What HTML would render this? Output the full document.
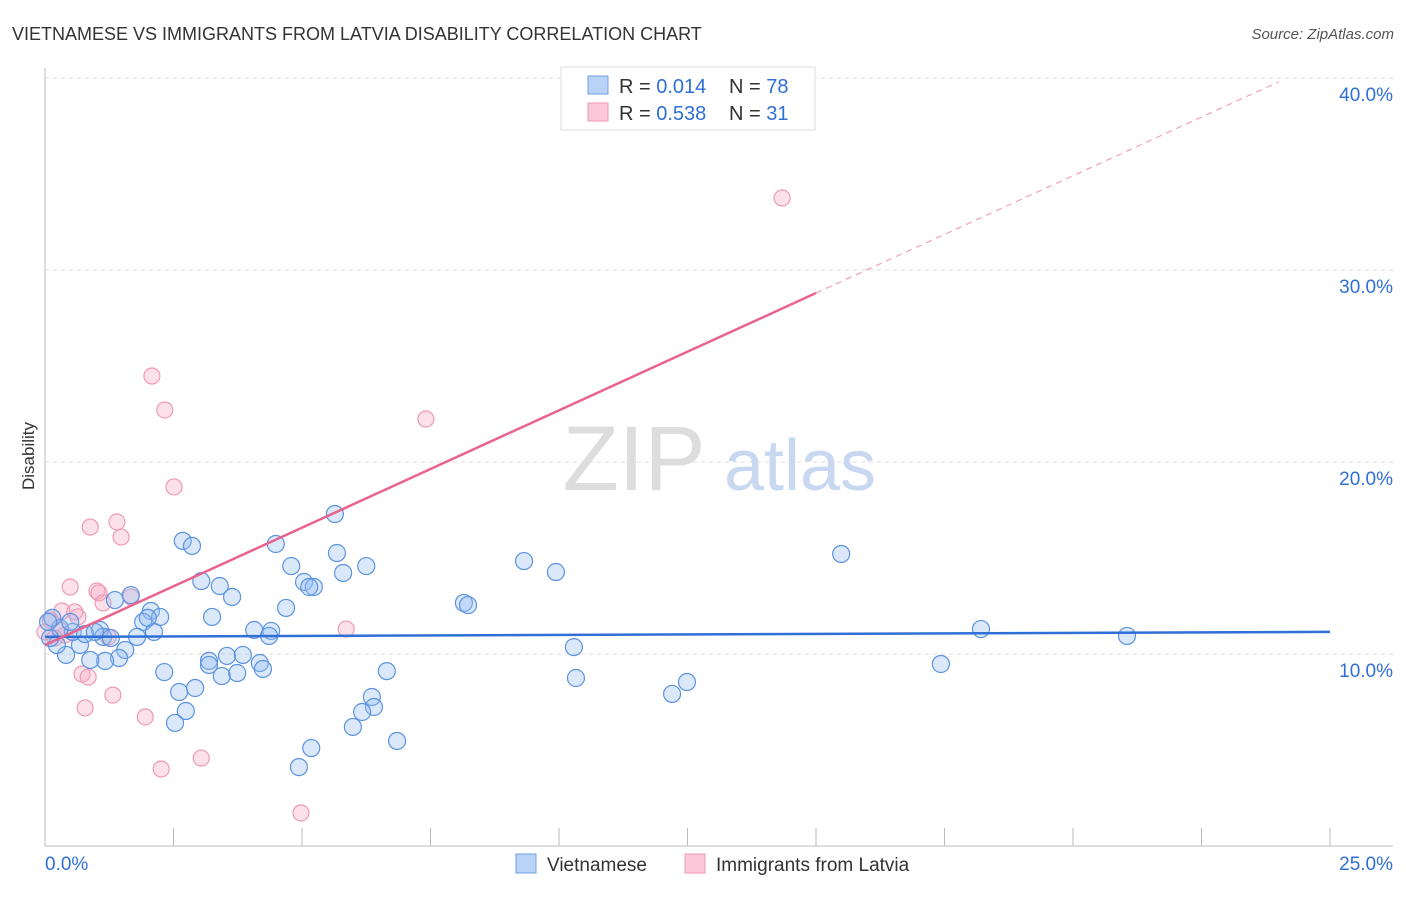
<!DOCTYPE html>
<html><head><meta charset="utf-8"><style>
body{margin:0;background:#fff;font-family:"Liberation Sans",sans-serif}
svg text{font-family:"Liberation Sans",sans-serif}
</style></head><body>
<svg id="chart" width="1406" height="892">
<text x="12" y="40" font-size="18" fill="#333">VIETNAMESE VS IMMIGRANTS FROM LATVIA DISABILITY CORRELATION CHART</text>
<text x="1394" y="39" font-size="15" fill="#555" font-style="italic" text-anchor="end">Source: ZipAtlas.com</text>
<text x="34" y="456" font-size="17" fill="#333" transform="rotate(-90 34 456)" text-anchor="middle">Disability</text>
<g id="grid"></g>
<text x="634" y="490" font-size="92" fill="#ddd" font-family="Liberation Serif" text-anchor="middle">ZIP</text>
<text x="800" y="490" font-size="72" fill="#c8d8f0" text-anchor="middle">atlas</text>
<g id="marks"></g>
<g>
<rect x="561" y="67" width="254" height="63" fill="#fff" stroke="#ddd"/>
<rect x="588" y="76" width="20" height="18" fill="#b9d3f7" stroke="#6f9fe0"/>
<rect x="588" y="103" width="20" height="18" fill="#fac8d8" stroke="#ee9ab5"/>
<text x="619" y="93" font-size="20" fill="#333">R = <tspan fill="#2f6fd6">0.014</tspan></text>
<text x="729" y="93" font-size="20" fill="#333">N = <tspan fill="#2f6fd6">78</tspan></text>
<text x="619" y="120" font-size="20" fill="#333">R = <tspan fill="#2f6fd6">0.538</tspan></text>
<text x="729" y="120" font-size="20" fill="#333">N = <tspan fill="#2f6fd6"> 31</tspan></text>
</g>
<g>
<rect x="516" y="854" width="20" height="19" fill="#b9d3f7" stroke="#6f9fe0"/>
<text x="547" y="871" font-size="19" fill="#333">Vietnamese</text>
<rect x="685" y="854" width="20" height="19" fill="#fac8d8" stroke="#ee9ab5"/>
<text x="716" y="871" font-size="19" fill="#333">Immigrants from Latvia</text>
</g>
</svg>
<script>
const yTicks=[10,20,30,40];
const yTickLabels=["10.0%","20.0%","30.0%","40.0%"];
const xTickVals=[0,2.5,5,7.5,10,12.5,15,17.5,20,22.5,25];
const blueX=[2.68,2.86,4.49,5.64,5.68,6.25,5.80,4.79,5.04,5.23,5.14,3.04,3.40,3.64,3.25,4.69,4.07,4.40,4.36,1.36,1.67,2.06,2.24,1.91,2.12,1.79,1.56,1.44,1.17,0.88,0.41,0.23,0.68,1.07,1.13,1.28,0.54,0.29,0.14,0.10,2.32,2.61,2.92,2.74,2.53,3.19,3.19,3.44,3.74,3.54,3.85,4.18,4.24,6.65,6.36,6.40,6.17,5.99,5.18,4.94,6.85,8.15,8.23,9.32,9.94,10.29,10.33,12.20,12.49,15.49,17.43,18.21,21.05,0.49,0.78,0.97,2.00,0.06];
const blueY=[15.89,15.63,15.73,17.29,15.26,14.58,14.22,14.58,13.75,13.49,13.49,13.80,13.54,12.97,11.93,12.40,11.25,11.20,10.94,12.81,13.07,12.24,11.93,11.67,11.15,10.89,10.21,9.79,9.64,9.69,9.95,10.47,10.47,11.25,10.89,10.83,11.15,11.35,11.88,10.83,9.06,8.02,8.23,7.03,6.41,9.64,9.43,8.85,9.01,9.90,9.95,9.53,9.22,9.11,7.76,7.24,6.98,6.20,5.10,4.11,5.47,12.66,12.55,14.84,14.27,10.36,8.75,7.92,8.54,15.21,9.48,11.30,10.94,11.67,11.04,11.15,11.88,11.67];
const pinkX=[14.34,2.08,2.33,7.41,2.51,0.88,1.40,1.48,0.49,1.01,1.05,1.13,1.67,0.33,0.58,0.64,0.29,0.19,0.39,0.72,0.84,1.32,0.78,1.95,2.26,3.04,4.98,5.86,0.10,0.0,1.23];
const pinkY=[33.75,24.48,22.71,22.24,18.70,16.61,16.88,16.09,13.49,13.28,13.18,12.66,12.97,12.24,12.19,11.93,11.25,10.83,10.99,8.96,8.80,7.86,7.19,6.72,4.01,4.58,1.72,11.30,11.77,11.15,10.89];
const blueLine=[10.89,11.15]; // y at x=0 and x=25
const pinkIntercept=10.47, pinkSlope=1.222, pinkSolidEnd=15, pinkDashEnd=24.0;

const X=v=>45+v*51.4, Y=v=>846-v*19.2;
const NS="http://www.w3.org/2000/svg";
function mk(tag,attrs,parent){const e=document.createElementNS(NS,tag);for(const k in attrs)e.setAttribute(k,attrs[k]);parent.appendChild(e);return e;}
const grid=document.getElementById('grid'), marks=document.getElementById('marks');
yTicks.forEach((t,i)=>{
  const l=mk('line',{x1:45,x2:1393,y1:Y(t),y2:Y(t),stroke:'#ddd','stroke-dasharray':'4,4'},grid);
  
  
  const tx=mk('text',{x:1393,y:Y(t)+23,'font-size':19,fill:'#2f6fd6','text-anchor':'end'},grid);
  tx.textContent=yTickLabels[i];
  
  
});
const ax=mk('line',{x1:45,x2:45,y1:68,y2:846,stroke:'#bbb'},grid);


const bx=mk('line',{x1:45,x2:1393,y1:846,y2:846,stroke:'#bbb'},grid);


xTickVals.forEach(t=>{
  const l=mk('line',{x1:X(t),x2:X(t),y1:828,y2:846,stroke:'#bbb'},grid);
  
  
});
const x0=mk('text',{x:45,y:870,'font-size':19,fill:'#2f6fd6'},grid);x0.textContent=xTickVals[0].toFixed(1)+'%';


const x1=mk('text',{x:1393,y:870,'font-size':19,fill:'#2f6fd6','text-anchor':'end'},grid);x1.textContent=xTickVals[xTickVals.length-1].toFixed(1)+'%';



pinkX.forEach((v,i)=>{
  const c=mk('circle',{cx:X(v),cy:Y(pinkY[i]),r:8,fill:'rgba(246,170,195,0.35)',stroke:'#ee9ab5','stroke-width':1.2},marks);
  
  
});
blueX.forEach((v,i)=>{
  const c=mk('circle',{cx:X(v),cy:Y(blueY[i]),r:8.5,fill:'rgba(150,190,240,0.35)',stroke:'#5b93e0','stroke-width':1.2},marks);
  
  
});
const bl=mk('line',{x1:X(0),y1:Y(blueLine[0]),x2:X(25),y2:Y(blueLine[1]),stroke:'#2f6fd6','stroke-width':2.5},marks);


const pl=mk('line',{x1:X(0),y1:Y(pinkIntercept),x2:X(pinkSolidEnd),y2:Y(pinkIntercept+pinkSlope*pinkSolidEnd),stroke:'#e8648f','stroke-width':2.5},marks);


const pd=mk('line',{x1:X(pinkSolidEnd),y1:Y(pinkIntercept+pinkSlope*pinkSolidEnd),x2:X(pinkDashEnd),y2:Y(pinkIntercept+pinkSlope*pinkDashEnd),stroke:'#f0a0b8','stroke-width':1.2,'stroke-dasharray':'6,5'},marks);


</script>
</body></html>
